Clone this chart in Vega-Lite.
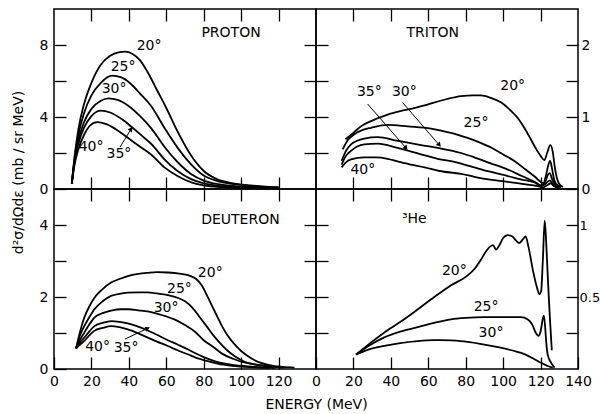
{
"$schema": "https://vega.github.io/schema/vega-lite/v6.json",
"background": "white",
"padding": {"left": 10, "top": 7, "right": 0, "bottom": 0},
"columns": 2,
"spacing": 0,
"bounds": "flush",
"datasets": {
"proton": [
{"a":20,"E":9.5,"v":0.3},{"a":20,"E":11,"v":1.8},{"a":20,"E":13,"v":3.3},{"a":20,"E":16,"v":4.7},{"a":20,"E":20,"v":5.9},{"a":20,"E":25,"v":6.9},{"a":20,"E":30,"v":7.4},{"a":20,"E":35,"v":7.6},{"a":20,"E":38,"v":7.63},{"a":20,"E":42,"v":7.5},{"a":20,"E":46,"v":7.15},{"a":20,"E":50,"v":6.5},{"a":20,"E":55,"v":5.5},{"a":20,"E":60,"v":4.5},{"a":20,"E":66,"v":3.2},{"a":20,"E":73,"v":1.9},{"a":20,"E":80,"v":1.0},{"a":20,"E":87,"v":0.55},{"a":20,"E":95,"v":0.33},{"a":20,"E":105,"v":0.2},{"a":20,"E":115,"v":0.12},{"a":20,"E":120,"v":0.1},
{"a":25,"E":9.5,"v":0.3},{"a":25,"E":11,"v":1.7},{"a":25,"E":13,"v":3.0},{"a":25,"E":16,"v":4.2},{"a":25,"E":20,"v":5.2},{"a":25,"E":25,"v":5.9},{"a":25,"E":31,"v":6.3},{"a":25,"E":36,"v":6.2},{"a":25,"E":41,"v":5.85},{"a":25,"E":46,"v":5.3},{"a":25,"E":52,"v":4.6},{"a":25,"E":59,"v":3.4},{"a":25,"E":66,"v":2.3},{"a":25,"E":73,"v":1.4},{"a":25,"E":80,"v":0.75},{"a":25,"E":87,"v":0.45},{"a":25,"E":95,"v":0.28},{"a":25,"E":105,"v":0.17},{"a":25,"E":115,"v":0.1},{"a":25,"E":120,"v":0.08},
{"a":30,"E":9.5,"v":0.3},{"a":30,"E":11,"v":1.6},{"a":30,"E":13,"v":2.7},{"a":30,"E":16,"v":3.7},{"a":30,"E":20,"v":4.45},{"a":30,"E":25,"v":4.9},{"a":30,"E":29,"v":5.04},{"a":30,"E":34,"v":4.95},{"a":30,"E":40,"v":4.6},{"a":30,"E":46,"v":4.05},{"a":30,"E":52,"v":3.37},{"a":30,"E":59,"v":2.35},{"a":30,"E":66,"v":1.5},{"a":30,"E":73,"v":0.85},{"a":30,"E":80,"v":0.47},{"a":30,"E":87,"v":0.28},{"a":30,"E":95,"v":0.17},{"a":30,"E":105,"v":0.11},{"a":30,"E":120,"v":0.06},
{"a":35,"E":9.5,"v":0.3},{"a":35,"E":11,"v":1.5},{"a":35,"E":13,"v":2.5},{"a":35,"E":16,"v":3.4},{"a":35,"E":20,"v":4.05},{"a":35,"E":25,"v":4.35},{"a":35,"E":30,"v":4.25},{"a":35,"E":36,"v":3.9},{"a":35,"E":42,"v":3.4},{"a":35,"E":47,"v":2.95},{"a":35,"E":52,"v":2.5},{"a":35,"E":59,"v":1.65},{"a":35,"E":66,"v":1.0},{"a":35,"E":73,"v":0.56},{"a":35,"E":80,"v":0.31},{"a":35,"E":87,"v":0.19},{"a":35,"E":95,"v":0.12},{"a":35,"E":105,"v":0.08},{"a":35,"E":120,"v":0.04},
{"a":40,"E":9.5,"v":0.3},{"a":40,"E":11,"v":1.35},{"a":40,"E":13,"v":2.2},{"a":40,"E":16,"v":3.0},{"a":40,"E":19,"v":3.5},{"a":40,"E":23,"v":3.72},{"a":40,"E":28,"v":3.6},{"a":40,"E":34,"v":3.25},{"a":40,"E":40,"v":2.8},{"a":40,"E":46,"v":2.35},{"a":40,"E":52,"v":1.9},{"a":40,"E":59,"v":1.2},{"a":40,"E":66,"v":0.72},{"a":40,"E":73,"v":0.38},{"a":40,"E":80,"v":0.2},{"a":40,"E":90,"v":0.1},{"a":40,"E":100,"v":0.06},{"a":40,"E":120,"v":0.03}
],
"proton_lab": [
{"t":"PROTON","E":94.6,"v":8.67},{"t":"20°","E":50.8,"v":7.94},{"t":"25°","E":36.9,"v":6.78},{"t":"30°","E":32.1,"v":5.56},{"t":"40°","E":19.8,"v":2.33},{"t":"35°","E":34.7,"v":1.94}
],
"proton_arr": [{"x1":35.3,"y1":2.33,"x2":41.2,"y2":3.33}],
"triton": [
{"a":20,"E":15.7,"v":0.69},{"a":20,"E":20,"v":0.78},{"a":20,"E":24,"v":0.87},{"a":20,"E":30,"v":0.95},{"a":20,"E":38,"v":1.03},{"a":20,"E":45,"v":1.08},{"a":20,"E":52,"v":1.12},{"a":20,"E":58,"v":1.16},{"a":20,"E":63,"v":1.2},{"a":20,"E":70,"v":1.25},{"a":20,"E":77.5,"v":1.29},{"a":20,"E":84,"v":1.3},{"a":20,"E":88,"v":1.3},{"a":20,"E":93,"v":1.27},{"a":20,"E":99,"v":1.2},{"a":20,"E":104,"v":1.09},{"a":20,"E":108,"v":0.98},{"a":20,"E":112,"v":0.82},{"a":20,"E":115,"v":0.68},{"a":20,"E":118,"v":0.54},{"a":20,"E":120.3,"v":0.45},{"a":20,"E":122,"v":0.4},{"a":20,"E":123.5,"v":0.5},{"a":20,"E":125.2,"v":0.61},{"a":20,"E":126.5,"v":0.52},{"a":20,"E":127.5,"v":0.32},{"a":20,"E":128.3,"v":0.2},{"a":20,"E":130,"v":0.07},{"a":20,"E":132,"v":0.03},
{"a":25,"E":14.3,"v":0.55},{"a":25,"E":17,"v":0.68},{"a":25,"E":20.5,"v":0.76},{"a":25,"E":25,"v":0.82},{"a":25,"E":29.4,"v":0.85},{"a":25,"E":38.3,"v":0.89},{"a":25,"E":49,"v":0.87},{"a":25,"E":61.5,"v":0.84},{"a":25,"E":67,"v":0.81},{"a":25,"E":75,"v":0.76},{"a":25,"E":81,"v":0.71},{"a":25,"E":88,"v":0.64},{"a":25,"E":94,"v":0.57},{"a":25,"E":100,"v":0.48},{"a":25,"E":106,"v":0.39},{"a":25,"E":112,"v":0.27},{"a":25,"E":117,"v":0.17},{"a":25,"E":120,"v":0.1},{"a":25,"E":121.5,"v":0.08},{"a":25,"E":123,"v":0.2},{"a":25,"E":124,"v":0.32},{"a":25,"E":125.1,"v":0.39},{"a":25,"E":126,"v":0.3},{"a":25,"E":127,"v":0.16},{"a":25,"E":128.3,"v":0.07},{"a":25,"E":131,"v":0.03},
{"a":30,"E":13.7,"v":0.39},{"a":30,"E":16,"v":0.53},{"a":30,"E":18.7,"v":0.62},{"a":30,"E":22,"v":0.67},{"a":30,"E":25.8,"v":0.7},{"a":30,"E":33,"v":0.72},{"a":30,"E":43.6,"v":0.67},{"a":30,"E":56.1,"v":0.61},{"a":30,"E":65,"v":0.57},{"a":30,"E":77.5,"v":0.5},{"a":30,"E":84.6,"v":0.44},{"a":30,"E":93,"v":0.36},{"a":30,"E":102.5,"v":0.27},{"a":30,"E":110,"v":0.18},{"a":30,"E":116.8,"v":0.1},{"a":30,"E":120.3,"v":0.05},{"a":30,"E":122.5,"v":0.1},{"a":30,"E":124,"v":0.2},{"a":30,"E":125,"v":0.22},{"a":30,"E":126,"v":0.15},{"a":30,"E":128,"v":0.05},{"a":30,"E":131,"v":0.02},
{"a":35,"E":13.7,"v":0.34},{"a":35,"E":16,"v":0.46},{"a":35,"E":18.7,"v":0.53},{"a":35,"E":22,"v":0.59},{"a":35,"E":25.8,"v":0.62},{"a":35,"E":33,"v":0.63},{"a":35,"E":43.6,"v":0.57},{"a":35,"E":56.1,"v":0.48},{"a":35,"E":65,"v":0.42},{"a":35,"E":75,"v":0.37},{"a":35,"E":84.6,"v":0.3},{"a":35,"E":93,"v":0.24},{"a":35,"E":102.5,"v":0.18},{"a":35,"E":110,"v":0.13},{"a":35,"E":116.8,"v":0.09},{"a":35,"E":120.3,"v":0.04},{"a":35,"E":123,"v":0.08},{"a":35,"E":125,"v":0.12},{"a":35,"E":126.5,"v":0.07},{"a":35,"E":129,"v":0.02},
{"a":40,"E":13.7,"v":0.3},{"a":40,"E":16,"v":0.37},{"a":40,"E":18.7,"v":0.41},{"a":40,"E":25.8,"v":0.44},{"a":40,"E":32,"v":0.44},{"a":40,"E":38.3,"v":0.42},{"a":40,"E":44,"v":0.38},{"a":40,"E":50.7,"v":0.34},{"a":40,"E":58,"v":0.3},{"a":40,"E":66,"v":0.25},{"a":40,"E":77.5,"v":0.21},{"a":40,"E":84.6,"v":0.17},{"a":40,"E":93,"v":0.13},{"a":40,"E":102.5,"v":0.1},{"a":40,"E":110,"v":0.07},{"a":40,"E":118.6,"v":0.04},{"a":40,"E":121,"v":0.02},{"a":40,"E":124,"v":0.06},{"a":40,"E":125.5,"v":0.08},{"a":40,"E":127,"v":0.04},{"a":40,"E":130,"v":0.01}
],
"triton_lab": [
{"t":"TRITON","E":62.4,"v":2.16},{"t":"20°","E":105.1,"v":1.43},{"t":"25°","E":85.5,"v":0.92},{"t":"35°","E":28.5,"v":1.35},{"t":"30°","E":47.2,"v":1.35},{"t":"40°","E":25.0,"v":0.27}
],
"triton_arr": [{"x1":27.6,"y1":1.18,"x2":48.1,"y2":0.57},{"x1":46.3,"y1":1.2,"x2":65.9,"y2":0.61}],
"deuteron": [
{"a":20,"E":11.8,"v":0.57},{"a":20,"E":14,"v":1.05},{"a":20,"E":16.2,"v":1.43},{"a":20,"E":19,"v":1.75},{"a":20,"E":21.6,"v":1.98},{"a":20,"E":26,"v":2.22},{"a":20,"E":30.5,"v":2.4},{"a":20,"E":35,"v":2.5},{"a":20,"E":39.4,"v":2.58},{"a":20,"E":45,"v":2.64},{"a":20,"E":50,"v":2.67},{"a":20,"E":55,"v":2.69},{"a":20,"E":61,"v":2.68},{"a":20,"E":67,"v":2.65},{"a":20,"E":72,"v":2.6},{"a":20,"E":76,"v":2.5},{"a":20,"E":79,"v":2.32},{"a":20,"E":82,"v":2.02},{"a":20,"E":85.7,"v":1.62},{"a":20,"E":89.3,"v":1.24},{"a":20,"E":92.5,"v":0.95},{"a":20,"E":96.4,"v":0.69},{"a":20,"E":100,"v":0.5},{"a":20,"E":103.5,"v":0.36},{"a":20,"E":107,"v":0.25},{"a":20,"E":110.6,"v":0.17},{"a":20,"E":117.8,"v":0.08},{"a":20,"E":122,"v":0.06},{"a":20,"E":128.5,"v":0.04},
{"a":25,"E":11.8,"v":0.57},{"a":25,"E":14,"v":0.95},{"a":25,"E":16.2,"v":1.19},{"a":25,"E":19,"v":1.45},{"a":25,"E":21.6,"v":1.66},{"a":25,"E":26,"v":1.88},{"a":25,"E":30.5,"v":2.03},{"a":25,"E":35,"v":2.09},{"a":25,"E":39.4,"v":2.12},{"a":25,"E":45,"v":2.13},{"a":25,"E":50,"v":2.13},{"a":25,"E":55,"v":2.1},{"a":25,"E":61,"v":2.05},{"a":25,"E":66,"v":1.98},{"a":25,"E":70,"v":1.88},{"a":25,"E":74,"v":1.7},{"a":25,"E":78,"v":1.43},{"a":25,"E":82.1,"v":1.15},{"a":25,"E":85.7,"v":0.9},{"a":25,"E":89.3,"v":0.69},{"a":25,"E":92.5,"v":0.52},{"a":25,"E":96.4,"v":0.36},{"a":25,"E":100,"v":0.25},{"a":25,"E":103.5,"v":0.17},{"a":25,"E":108,"v":0.12},{"a":25,"E":114.2,"v":0.08},{"a":25,"E":123.2,"v":0.04},
{"a":30,"E":11.8,"v":0.57},{"a":30,"E":14,"v":0.82},{"a":30,"E":16.2,"v":1.01},{"a":30,"E":19,"v":1.25},{"a":30,"E":21.6,"v":1.43},{"a":30,"E":26,"v":1.55},{"a":30,"E":30.5,"v":1.62},{"a":30,"E":35.8,"v":1.66},{"a":30,"E":40,"v":1.66},{"a":30,"E":45,"v":1.63},{"a":30,"E":50,"v":1.6},{"a":30,"E":55.4,"v":1.53},{"a":30,"E":60,"v":1.46},{"a":30,"E":64.3,"v":1.38},{"a":30,"E":70,"v":1.22},{"a":30,"E":75,"v":1.05},{"a":30,"E":80,"v":0.8},{"a":30,"E":85.7,"v":0.59},{"a":30,"E":90,"v":0.42},{"a":30,"E":96.4,"v":0.27},{"a":30,"E":101,"v":0.19},{"a":30,"E":107.1,"v":0.13},{"a":30,"E":117.8,"v":0.06},{"a":30,"E":122,"v":0.04},
{"a":35,"E":11.8,"v":0.57},{"a":35,"E":14,"v":0.74},{"a":35,"E":16.2,"v":0.87},{"a":35,"E":19,"v":1.05},{"a":35,"E":21.6,"v":1.19},{"a":35,"E":26,"v":1.28},{"a":35,"E":30.5,"v":1.33},{"a":35,"E":35,"v":1.31},{"a":35,"E":39.4,"v":1.27},{"a":35,"E":46.5,"v":1.15},{"a":35,"E":50.1,"v":1.07},{"a":35,"E":55,"v":0.95},{"a":35,"E":60.8,"v":0.8},{"a":35,"E":66,"v":0.68},{"a":35,"E":71.4,"v":0.55},{"a":35,"E":75,"v":0.45},{"a":35,"E":80,"v":0.33},{"a":35,"E":85.7,"v":0.22},{"a":35,"E":90,"v":0.16},{"a":35,"E":96.4,"v":0.11},{"a":35,"E":107,"v":0.06},{"a":35,"E":118,"v":0.03},
{"a":40,"E":11.8,"v":0.57},{"a":40,"E":14,"v":0.68},{"a":40,"E":16.2,"v":0.78},{"a":40,"E":19,"v":0.94},{"a":40,"E":21.6,"v":1.06},{"a":40,"E":26,"v":1.14},{"a":40,"E":30.5,"v":1.19},{"a":40,"E":35,"v":1.16},{"a":40,"E":39.4,"v":1.1},{"a":40,"E":45,"v":0.99},{"a":40,"E":50.1,"v":0.87},{"a":40,"E":55,"v":0.76},{"a":40,"E":60.8,"v":0.64},{"a":40,"E":66,"v":0.52},{"a":40,"E":71.4,"v":0.41},{"a":40,"E":76,"v":0.31},{"a":40,"E":82.1,"v":0.22},{"a":40,"E":88,"v":0.14},{"a":40,"E":95,"v":0.09},{"a":40,"E":105,"v":0.05},{"a":40,"E":115,"v":0.03}
],
"deuteron_lab": [
{"t":"DEUTERON","E":99.6,"v":4.13},{"t":"20°","E":83.5,"v":2.68},{"t":"25°","E":67.0,"v":2.21},{"t":"30°","E":59.9,"v":1.7},{"t":"40°","E":23.3,"v":0.61},{"t":"35°","E":38.5,"v":0.59}
],
"deuteron_arr": [{"x1":37.9,"y1":0.83,"x2":50.1,"y2":1.13}],
"he3": [
{"a":20,"E":21.4,"v":0.1},{"a":20,"E":30,"v":0.19},{"a":20,"E":40,"v":0.285},{"a":20,"E":45.4,"v":0.33},{"a":20,"E":55,"v":0.42},{"a":20,"E":63.2,"v":0.5},{"a":20,"E":72,"v":0.58},{"a":20,"E":81.1,"v":0.65},{"a":20,"E":85,"v":0.7},{"a":20,"E":88.2,"v":0.76},{"a":20,"E":91,"v":0.82},{"a":20,"E":93,"v":0.85},{"a":20,"E":94.6,"v":0.86},{"a":20,"E":96.2,"v":0.83},{"a":20,"E":98,"v":0.86},{"a":20,"E":100,"v":0.91},{"a":20,"E":102.4,"v":0.93},{"a":20,"E":105,"v":0.92},{"a":20,"E":107,"v":0.89},{"a":20,"E":108.7,"v":0.875},{"a":20,"E":110.5,"v":0.9},{"a":20,"E":112,"v":0.92},{"a":20,"E":113.5,"v":0.85},{"a":20,"E":116,"v":0.68},{"a":20,"E":118,"v":0.57},{"a":20,"E":119.4,"v":0.52},{"a":20,"E":120.3,"v":0.54},{"a":20,"E":121.2,"v":0.75},{"a":20,"E":122.2,"v":1.03},{"a":20,"E":123,"v":0.88},{"a":20,"E":124,"v":0.6},{"a":20,"E":125,"v":0.35},{"a":20,"E":126,"v":0.13},
{"a":25,"E":21.4,"v":0.1},{"a":25,"E":28,"v":0.16},{"a":25,"E":36.5,"v":0.22},{"a":25,"E":45,"v":0.26},{"a":25,"E":54.3,"v":0.29},{"a":25,"E":63,"v":0.32},{"a":25,"E":72.1,"v":0.345},{"a":25,"E":80,"v":0.355},{"a":25,"E":90,"v":0.36},{"a":25,"E":100,"v":0.36},{"a":25,"E":109.6,"v":0.36},{"a":25,"E":113,"v":0.345},{"a":25,"E":115.5,"v":0.31},{"a":25,"E":117.5,"v":0.25},{"a":25,"E":118.8,"v":0.23},{"a":25,"E":120,"v":0.26},{"a":25,"E":121.2,"v":0.35},{"a":25,"E":121.7,"v":0.37},{"a":25,"E":122.4,"v":0.3},{"a":25,"E":123,"v":0.19},{"a":25,"E":123.8,"v":0.1},{"a":25,"E":125.6,"v":0.044},{"a":25,"E":127.4,"v":0.01},
{"a":30,"E":21.4,"v":0.1},{"a":30,"E":28,"v":0.135},{"a":30,"E":36.5,"v":0.16},{"a":30,"E":45,"v":0.18},{"a":30,"E":54.3,"v":0.194},{"a":30,"E":63,"v":0.2},{"a":30,"E":72.1,"v":0.199},{"a":30,"E":80,"v":0.19},{"a":30,"E":90,"v":0.17},{"a":30,"E":98,"v":0.15},{"a":30,"E":106,"v":0.125},{"a":30,"E":112,"v":0.1},{"a":30,"E":116.7,"v":0.068},{"a":30,"E":120,"v":0.045},{"a":30,"E":123.8,"v":0.021},{"a":30,"E":126.5,"v":0.01}
],
"he3_lab": [
{"t":"³He","E":52.5,"v":1.04},{"t":"20°","E":73.9,"v":0.68},{"t":"25°","E":90.9,"v":0.43},{"t":"30°","E":93.5,"v":0.25}
]
},
"concat": [
{
"width": 262, "height": 180,
"layer": [
{"data": {"name": "proton"}, "mark": {"type": "line", "interpolate": "monotone", "color": "black", "strokeWidth": 1.8},
 "encoding": {
  "x": {"field": "E", "type": "quantitative", "scale": {"domain": [0, 140], "nice": false, "zero": false}, "axis": {"orient": "bottom", "values": [20,40,60,80,100,120], "labels": false, "title": null}},
  "y": {"field": "v", "type": "quantitative", "scale": {"domain": [0, 10], "nice": false}, "axis": {"orient": "left", "values": [0,2,4,6,8], "format": "~g", "labelExpr": "datum.value % 4 == 0 ? datum.label : ''", "labelPadding": 18, "title": "d²σ/dΩdε  (mb / sr MeV)", "titleX": -36, "titleY": 163, "titleAngle": -90, "titleBaseline": "middle", "titleAlign": "center", "titleFontSize": 14}},
  "detail": {"field": "a", "type": "nominal"}}},
{"data": {"name": "proton_lab"}, "mark": {"type": "text"},
 "encoding": {
  "x": {"field": "E", "type": "quantitative", "scale": {"domain": [0, 140], "nice": false, "zero": false}, "axis": {"orient": "top", "values": [20,40,60,80,100,120], "labels": false, "title": null}},
  "y": {"field": "v", "type": "quantitative", "scale": {"domain": [0, 10], "nice": false}, "axis": {"orient": "right", "values": [2,4,6,8], "labels": false, "title": null}},
  "text": {"field": "t"}}},
{"data": {"name": "proton_arr"}, "mark": {"type": "rule", "color": "black", "strokeWidth": 1},
 "encoding": {"x": {"field": "x1", "type": "quantitative", "axis": null}, "y": {"field": "y1", "type": "quantitative", "axis": null}, "x2": {"field": "x2"}, "y2": {"field": "y2"}}},
{"data": {"name": "proton_arr"}, "mark": {"type": "point", "shape": "triangle-up", "filled": true, "color": "black", "opacity": 1, "size": 28, "angle": 36},
 "encoding": {"x": {"field": "x2", "type": "quantitative", "axis": null}, "y": {"field": "y2", "type": "quantitative", "axis": null}}}
],
"resolve": {"axis": {"x": "independent", "y": "independent"}}
},
{
"width": 262, "height": 180,
"layer": [
{"data": {"name": "triton"}, "mark": {"type": "line", "interpolate": "monotone", "color": "black", "strokeWidth": 1.8},
 "encoding": {
  "x": {"field": "E", "type": "quantitative", "scale": {"domain": [0, 140], "nice": false, "zero": false}, "axis": {"orient": "bottom", "values": [20,40,60,80,100,120], "labels": false, "title": null}},
  "y": {"field": "v", "type": "quantitative", "scale": {"domain": [0, 2.5], "nice": false}, "axis": {"orient": "left", "values": [0.5,1,1.5,2], "labels": false, "title": null}},
  "detail": {"field": "a", "type": "nominal"}}},
{"data": {"name": "triton_lab"}, "mark": {"type": "text"},
 "encoding": {
  "x": {"field": "E", "type": "quantitative", "scale": {"domain": [0, 140], "nice": false, "zero": false}, "axis": {"orient": "top", "values": [20,40,60,80,100,120], "labels": false, "title": null}},
  "y": {"field": "v", "type": "quantitative", "scale": {"domain": [0, 2.5], "nice": false}, "axis": {"orient": "right", "values": [0,0.5,1,1.5,2], "format": "~g", "labelExpr": "datum.value == 0 || datum.value == 1 || datum.value == 2 ? datum.label : ''", "labelPadding": 15, "title": null}},
  "text": {"field": "t"}}},
{"data": {"name": "triton_arr"}, "mark": {"type": "rule", "color": "black", "strokeWidth": 1},
 "encoding": {"x": {"field": "x1", "type": "quantitative", "axis": null}, "y": {"field": "y1", "type": "quantitative", "axis": null}, "x2": {"field": "x2"}, "y2": {"field": "y2"}}},
{"data": {"name": "triton_arr"}, "mark": {"type": "point", "shape": "triangle-up", "filled": true, "color": "black", "opacity": 1, "size": 28, "angle": 139},
 "encoding": {"x": {"field": "x2", "type": "quantitative", "axis": null}, "y": {"field": "y2", "type": "quantitative", "axis": null}}}
],
"resolve": {"axis": {"x": "independent", "y": "independent"}}
},
{
"width": 262, "height": 180,
"layer": [
{"data": {"name": "deuteron"}, "mark": {"type": "line", "interpolate": "monotone", "color": "black", "strokeWidth": 1.8},
 "encoding": {
  "x": {"field": "E", "type": "quantitative", "scale": {"domain": [0, 140], "nice": false, "zero": false}, "axis": {"orient": "bottom", "values": [0,20,40,60,80,100,120], "labelPadding": 17, "title": "ENERGY (MeV)", "titleX": 262, "titleY": 35, "titleBaseline": "middle", "titleAlign": "center", "titleFontSize": 14}},
  "y": {"field": "v", "type": "quantitative", "scale": {"domain": [0, 5], "nice": false}, "axis": {"orient": "left", "values": [0,1,2,3,4], "labelExpr": "datum.value % 2 == 0 ? datum.label : ''", "labelPadding": 18, "title": null}},
  "detail": {"field": "a", "type": "nominal"}}},
{"data": {"name": "deuteron_lab"}, "mark": {"type": "text"},
 "encoding": {
  "x": {"field": "E", "type": "quantitative", "scale": {"domain": [0, 140], "nice": false, "zero": false}, "axis": {"orient": "top", "values": [20,40,60,80,100,120], "labels": false, "title": null}},
  "y": {"field": "v", "type": "quantitative", "scale": {"domain": [0, 5], "nice": false}, "axis": {"orient": "right", "values": [1,2,3,4], "labels": false, "title": null}},
  "text": {"field": "t"}}},
{"data": {"name": "deuteron_arr"}, "mark": {"type": "rule", "color": "black", "strokeWidth": 1},
 "encoding": {"x": {"field": "x1", "type": "quantitative", "axis": null}, "y": {"field": "y1", "type": "quantitative", "axis": null}, "x2": {"field": "x2"}, "y2": {"field": "y2"}}},
{"data": {"name": "deuteron_arr"}, "mark": {"type": "point", "shape": "triangle-up", "filled": true, "color": "black", "opacity": 1, "size": 28, "angle": 65},
 "encoding": {"x": {"field": "x2", "type": "quantitative", "axis": null}, "y": {"field": "y2", "type": "quantitative", "axis": null}}}
],
"resolve": {"axis": {"x": "independent", "y": "independent"}}
},
{
"width": 262, "height": 180,
"layer": [
{"data": {"name": "he3"}, "mark": {"type": "line", "interpolate": "monotone", "color": "black", "strokeWidth": 1.8},
 "encoding": {
  "x": {"field": "E", "type": "quantitative", "scale": {"domain": [0, 140], "nice": false, "zero": false}, "axis": {"orient": "bottom", "values": [0,20,40,60,80,100,120,140], "labelPadding": 17, "title": null}},
  "y": {"field": "v", "type": "quantitative", "scale": {"domain": [0, 1.25], "nice": false}, "axis": {"orient": "left", "values": [0.25,0.5,0.75,1], "labels": false, "title": null}},
  "detail": {"field": "a", "type": "nominal"}}},
{"data": {"name": "he3_lab"}, "mark": {"type": "text"},
 "encoding": {
  "x": {"field": "E", "type": "quantitative", "scale": {"domain": [0, 140], "nice": false, "zero": false}, "axis": {"orient": "top", "values": [20,40,60,80,100,120], "labels": false, "title": null}},
  "y": {"field": "v", "type": "quantitative", "scale": {"domain": [0, 1.25], "nice": false}, "axis": {"orient": "right", "values": [0.25,0.5,0.75,1], "format": "~g", "labelExpr": "datum.value == 0.5 || datum.value == 1 ? datum.label : ''", "labelPadding": 13, "labelFontSize": 13, "title": null}},
  "text": {"field": "t"}}}
],
"resolve": {"axis": {"x": "independent", "y": "independent"}}
}
],
"config": {
 "font": "DejaVu Sans",
 "view": {"stroke": "black", "strokeWidth": 1.5},
 "axis": {"domain": false, "grid": false, "tickColor": "black", "tickWidth": 1.3, "tickSize": -12, "labelColor": "black", "labelFontSize": 14, "labelFont": "DejaVu Sans", "labelFlush": false, "labelOverlap": false, "titleFont": "DejaVu Sans", "titleColor": "black", "titleFontWeight": "normal"},
 "text": {"font": "DejaVu Sans", "fontSize": 14, "color": "black"}
}
}
